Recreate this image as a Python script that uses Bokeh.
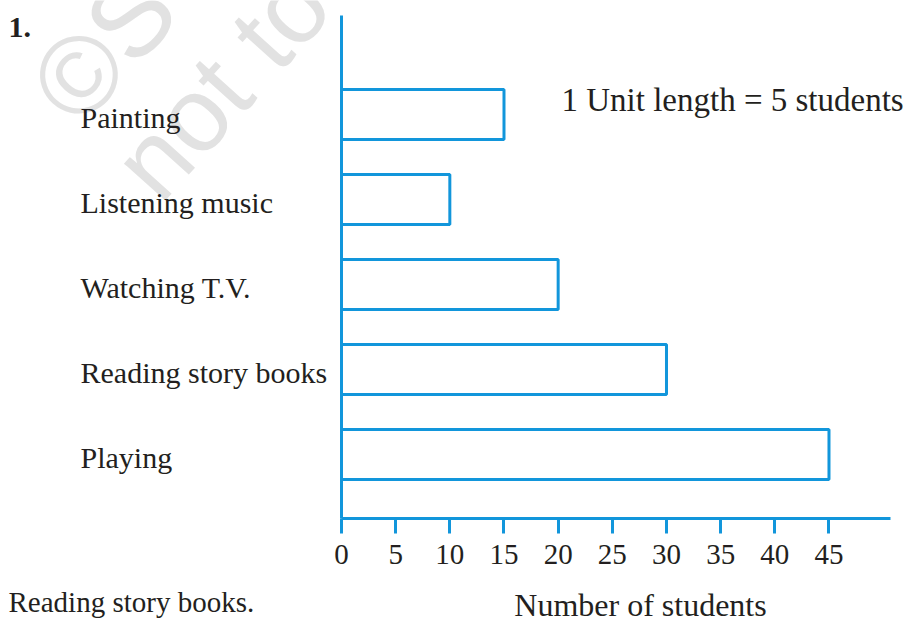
import math
from bokeh.plotting import figure
from bokeh.models import Range1d, FixedTicker, Label, LinearAxis, ColumnDataSource
from bokeh.core.properties import value
from bokeh.embed import file_html
from bokeh.resources import INLINE

# ---- data ----
activities = ["Playing", "Reading story books", "Watching T.V.", "Listening music", "Painting"]
students = [45, 30, 20, 10, 15]
x_ticks = [0, 5, 10, 15, 20, 25, 30, 35, 40, 45]
x_label = "Number of students"
scale_note = "1 Unit length = 5 students"
question_no = "1."
answer_text = "Reading story books."

# ---- styling ----
BLUE = "#1296DB"
INK = "#231f20"
SERIF = "Liberation Serif"
W, H = 904, 621
SHIFT = 0.38  # empirical baseline correction (em)

# geometry (picture pixels)
X0_PX, XR_PX = 341, 890      # x axis extent
YT_PX, YB_PX = 15, 518       # y axis extent
PX_X = 10.833                # pixels per student
PX_Y = 85.0                  # pixels per category step
ROW0_PX = 454                # centre of bottom bar

def px_x(px):
    return (px - X0_PX) / PX_X

def px_y(py):
    return (ROW0_PX - py) / PX_Y

ypos = list(range(len(activities)))

p = figure(width=W, height=H, output_backend="svg", toolbar_location=None,
           x_range=Range1d(px_x(0), px_x(W)),
           y_range=Range1d(px_y(H), px_y(0)),
           min_border=0, x_axis_location=None, y_axis_location=None)
p.outline_line_color = None
p.grid.visible = False
p.background_fill_color = "white"
p.border_fill_color = "white"

# watermark (faint)
ang = math.radians(48)
for txt, (wx, wy), fs in [("©S", (51, 104), "110px"), ("not to", (133, 181), "105px")]:
    p.add_layout(Label(x=px_x(wx), y=px_y(wy), text=txt, angle=ang,
                       text_font="Liberation Sans", text_font_size=fs,
                       text_color="#e2e2e2", text_align="left",
                       text_baseline="alphabetic", level="underlay"))

# bars
p.hbar(y=ypos, left=0, right=students, height=0.59,
       fill_color="white", line_color=BLUE, line_width=3)

# x axis at fixed location, bounded
xa = LinearAxis(fixed_location=px_y(YB_PX), bounds=(0, px_x(XR_PX)),
                ticker=FixedTicker(ticks=x_ticks))
xa.minor_tick_line_color = None
xa.major_tick_in = 0
xa.major_tick_out = 15
xa.major_tick_line_color = BLUE
xa.major_tick_line_width = 3
xa.axis_line_color = BLUE
xa.axis_line_width = 3
xa.major_label_text_font = SERIF
xa.major_label_text_font_size = "29px"
xa.major_label_text_color = INK
xa.major_label_standoff = 11
p.add_layout(xa, "below")

# y axis: plain line only
ya = LinearAxis(fixed_location=0, bounds=(px_y(YB_PX), px_y(YT_PX)),
                ticker=FixedTicker(ticks=[]))
ya.minor_tick_line_color = None
ya.major_tick_line_color = None
ya.major_label_text_font_size = "0px"
ya.axis_line_color = BLUE
ya.axis_line_width = 3
p.add_layout(ya, "left")

# category labels (left aligned)
LAB_FS = 30
src = ColumnDataSource(dict(x=[px_x(80)] * len(activities),
                            y=[v - (14 - SHIFT * LAB_FS) / PX_Y for v in ypos],
                            name=activities))
p.text(x="x", y="y", text="name", source=src,
       text_font=value(SERIF), text_font_size=f"{LAB_FS}px",
       text_color=INK, text_align="left", text_baseline="alphabetic")

def add_label(txt, x, base_y, size, align="left", style="normal"):
    p.add_layout(Label(x=px_x(x), y=px_y(base_y - SHIFT * size), text=txt,
                       text_font=SERIF, text_font_size=f"{size}px", text_font_style=style,
                       text_color=INK, text_align=align, text_baseline="alphabetic"))

add_label(scale_note, 561, 112, 33)
add_label(question_no, 8, 38, 30, style="bold")
add_label(x_label, 640, 617, 32, align="center")
add_label(answer_text, 8, 613, 29)

open("out.html", "w").write(file_html(p, INLINE))
